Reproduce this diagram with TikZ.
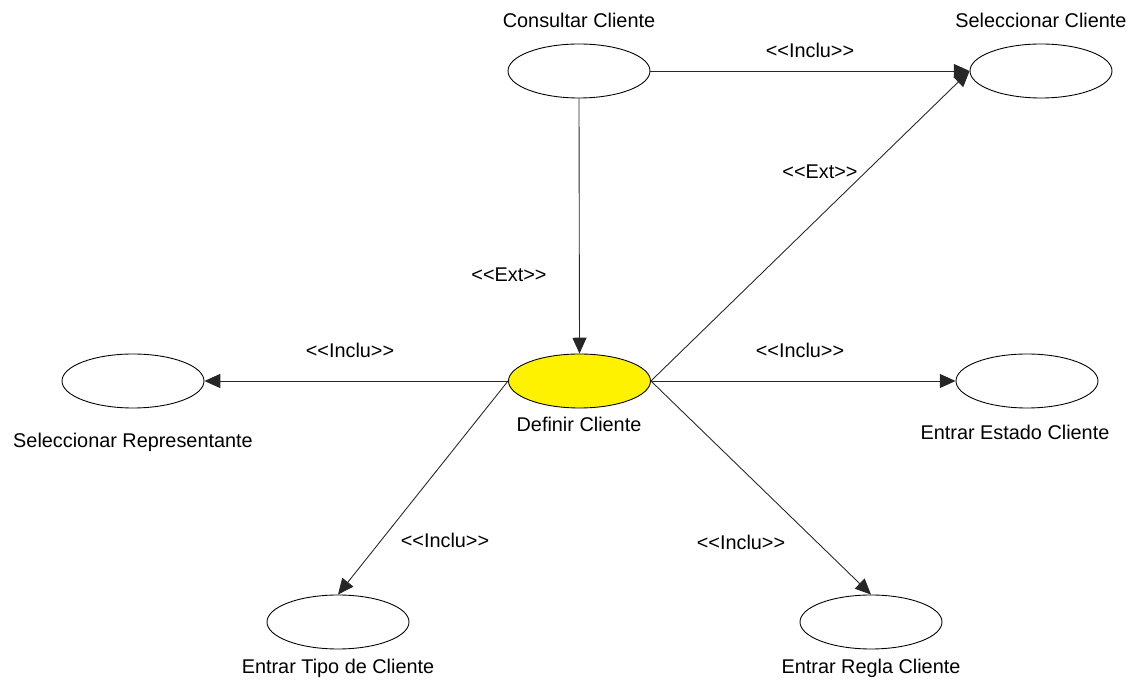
\documentclass[tikz,border=0pt]{standalone}
\usepackage{fontspec}
\setmainfont{Liberation Sans}
\usetikzlibrary{shapes.geometric,arrows.meta}

\begin{document}
\begin{tikzpicture}[
  usecase/.style={draw, ellipse, line width=0.5pt, minimum width=2.84cm, minimum height=1.08cm, inner sep=0pt},
  lbl/.style={font=\fontsize{11.3}{13}\selectfont, inner sep=1pt},
  rel/.style={-{Triangle[length=9pt,width=8pt]}, line width=0.5pt, black!85}
]
  \useasboundingbox (0, 0) rectangle (22.62, 13.68);
  % casos de uso
  \node[usecase] (consultar) at (11.58, 12.26) {};
  \node[usecase] (selcli) at (20.82, 12.26) {};
  \node[usecase, fill=yellow] (definir) at (11.59, 6.06) {};
  \node[usecase] (selrep) at (2.66, 6.06) {};
  \node[usecase] (estado) at (20.54, 6.06) {};
  \node[usecase] (tipo) at (6.76, 1.24) {};
  \node[usecase] (regla) at (17.42, 1.24) {};
  % nombres
  \node[lbl] (consultarTxt) at (11.58, 13.28) {Consultar Cliente};
  \node[lbl] (selcliTxt) at (20.82, 13.28) {Seleccionar Cliente};
  \node[lbl] (definirTxt) at (11.58, 5.2) {Definir Cliente};
  \node[lbl] (selrepTxt) at (2.66, 4.84) {Seleccionar Representante};
  \node[lbl] (estadoTxt) at (20.3, 5.04) {Entrar Estado Cliente};
  \node[lbl] (tipoTxt) at (6.76, 0.32) {Entrar Tipo de Cliente};
  \node[lbl] (reglaTxt) at (17.42, 0.32) {Entrar Regla Cliente};
  % relaciones
  \draw[rel] (consultar.east) -- (selcli.west);
  \draw[rel] (consultar.south) -- (definir.north);
  \draw[rel] (definir.east) -- (selcli.west);
  \draw[rel] (definir.west) -- (selrep.east);
  \draw[rel] (definir.east) -- (estado.west);
  \draw[rel] (definir.west) -- (tipo.north);
  \draw[rel] (definir.east) -- (regla.north);
  \node[lbl] (inclu1) at (16.2, 12.68) {<{}<Inclu>{}>};
  \node[lbl] (ext1) at (16.4, 10.24) {<{}<Ext>{}>};
  \node[lbl] (ext2) at (10.18, 8.18) {<{}<Ext>{}>};
  \node[lbl] (inclu2) at (7.0, 6.68) {<{}<Inclu>{}>};
  \node[lbl] (inclu3) at (16.0, 6.68) {<{}<Inclu>{}>};
  \node[lbl] (inclu4) at (8.9, 2.88) {<{}<Inclu>{}>};
  \node[lbl] (inclu5) at (14.82, 2.84) {<{}<Inclu>{}>};
\end{tikzpicture}
\end{document}
